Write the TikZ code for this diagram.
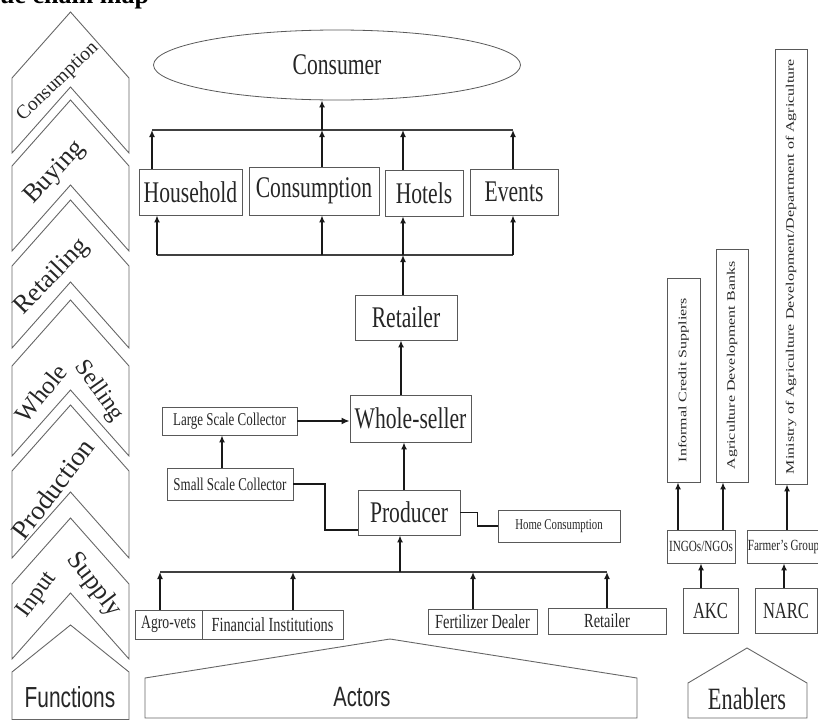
\documentclass[tikz,border=0pt]{standalone}
\usepackage{fontspec}
\setmainfont{Liberation Serif}[FakeStretch=0.72]
\newfontfamily\sanscond{Liberation Sans}[FakeStretch=0.72]
\newfontfamily\vertfont{Liberation Serif}[FakeStretch=1.39]
\newfontfamily\chevfont{Liberation Serif}
\usepackage{graphicx}
\usetikzlibrary{shapes.geometric,arrows.meta}
\tikzset{
  box/.style={draw=black!65, line width=0.8pt, rectangle, inner sep=0pt, text=black!85},
  bigt/.style={font=\fontsize{30}{32}\selectfont},
  arr/.style={line width=1.8pt, draw=black!90, -{Latex[length=7pt,width=6pt]}},
  thickarr/.style={line width=2.6pt, draw=black!90, -{Latex[length=8pt,width=7pt]}},
  link/.style={line width=2.2pt, draw=black!90},
  bus/.style={line width=1.2pt, draw=black!75},
  chevline/.style={draw=black!60, line width=0.9pt, line join=miter},
  chevlab/.style={inner sep=0pt, text=black!85},
}
\begin{document}
\begin{tikzpicture}[x=1pt,y=-1pt]
\useasboundingbox (0,0) rectangle (818,720);
\clip (0,0) rectangle (818,720);

% title (cut at top)
\node[anchor=base west, inner sep=0pt, font=\chevfont\bfseries\fontsize{26}{26}\selectfont] (title) at (0,3) {ue chain map};

% ---------- function chevrons ----------
\foreach \P/\N in {12/87,100/185,200/282,300/390,405/492,518/593}{
  \draw[chevline] (70.5,\P) -- (129,\P+66) -- (129,\N+66) -- (70.5,\N) -- (12,\N+66) -- (12,\P+66) -- cycle;
}
\draw[chevline] (70.5,625) -- (129,672) -- (129,719.5) -- (12,719.5) -- (12,672) -- cycle;
\node[chevlab, rotate=44, font=\chevfont\fontsize{19.5}{20}\selectfont] (lcons) at (58,82) {Consumption};
\node[chevlab, rotate=47, font=\chevfont\fontsize{26}{26}\selectfont] (lbuy) at (55,173) {Buying};
\node[chevlab, rotate=46, font=\chevfont\fontsize{26}{26}\selectfont] (lret) at (52,277) {Retailing};
\node[chevlab, rotate=51, font=\chevfont\fontsize{25}{25}\selectfont] (lwho) at (41,393) {Whole};
\node[chevlab, rotate=-55, font=\chevfont\fontsize{24}{24}\selectfont] (lsel) at (99,391) {Selling};
\node[chevlab, rotate=53, font=\chevfont\fontsize{27}{27}\selectfont] (lpro) at (53,489) {Production};
\node[chevlab, rotate=54, font=\chevfont\fontsize{24}{24}\selectfont] (linp) at (37,595) {Input};
\node[chevlab, rotate=-53, font=\chevfont\fontsize{26}{26}\selectfont] (lsup) at (94,585) {Supply};
\node[chevlab, font=\sanscond\fontsize{29}{30}\selectfont] (lfun) at (70,697) {Functions};

% ---------- actors / enablers bases ----------
\draw[chevline] (390,639) -- (637,678) -- (637,718) -- (145,718) -- (145,678) -- cycle;
\node[chevlab, font=\sanscond\fontsize{28}{30}\selectfont] (lact) at (362,697) {Actors};
\draw[chevline] (747,648) -- (807,683) -- (807,718) -- (688,718) -- (688,683) -- cycle;
\node[chevlab, font=\fontsize{31}{32}\selectfont] (lena) at (747,699) {Enablers};

% ---------- consumer level ----------
\node[ellipse, draw=black!65, line width=0.8pt, minimum width=367pt, minimum height=70pt, inner sep=0pt, bigt, text=black!85] (consumer) at (337,65) {Consumer\hspace{60pt}};
\node[box, bigt, minimum width=103pt, minimum height=46pt] (hh) at (190.5,192) {Household};
\node[box, bigt, minimum width=130pt, minimum height=48pt] (cons) at (314,191) {Consumption};
\node[box, bigt, minimum width=78pt, minimum height=46pt] (hot) at (424,193) {Hotels};
\node[box, bigt, minimum width=88pt, minimum height=46pt] (ev) at (514,192) {Events\hspace{16pt}};

\coordinate (tbL) at (152,130);
\coordinate (tbC) at (322,130);
\coordinate (tbH) at (403,130);
\coordinate (tbR) at (513,130);
\draw[bus] (tbL) -- (tbR);
\draw[arr] (tbL |- hh.north) -- (tbL);
\draw[arr] (tbC |- cons.north) -- (tbC);
\draw[arr] (tbH |- hot.north) -- (tbH);
\draw[arr] (tbR |- ev.north) -- (tbR);
\draw[arr] (tbC) -- (tbC |- consumer.south);

\coordinate (bbL) at (157,255);
\coordinate (bbC) at (322,255);
\coordinate (bbH) at (403,255);
\coordinate (bbR) at (513,255);
\draw[bus] (bbL) -- (bbR);
\draw[arr] (bbL) -- (bbL |- hh.south);
\draw[arr] (bbC) -- (bbC |- cons.south);
\draw[arr] (bbH) -- (bbH |- hot.south);
\draw[arr] (bbR) -- (bbR |- ev.south);

% ---------- trade chain ----------
\node[box, bigt, minimum width=102pt, minimum height=45pt] (ret) at (406,317.5) {Retailer};
\node[box, bigt, minimum width=121pt, minimum height=47pt] (ws) at (410.5,418.5) {Whole-seller};
\node[box, font=\fontsize{18}{18}\selectfont, minimum width=135pt, minimum height=28pt] (lsc) at (229.5,421) {Large Scale Collector};
\node[box, font=\fontsize{18}{18}\selectfont, minimum width=126pt, minimum height=32pt] (ssc) at (230,484) {Small Scale Collector};
\node[box, bigt, minimum width=102pt, minimum height=45pt] (prod) at (409,512.5) {Producer};
\node[box, font=\fontsize{15}{15}\selectfont, minimum width=122pt, minimum height=32pt] (hc) at (559,526) {Home Consumption};

\draw[arr] (bbH |- ret.north) -- (bbH);
\coordinate (xws) at (401,360);
\draw[arr] (xws |- ws.north) -- (xws |- ret.south);
\draw[thickarr] (lsc.east) -- (ws.west |- lsc.east);
\coordinate (xssc) at (222,450);
\draw[arr] (xssc |- ssc.north) -- (xssc |- lsc.south);
\coordinate (sp) at (325,530);
\draw[link] (ssc.east) -| (sp) -- (sp -| prod.west);
\coordinate (xpr) at (404,460);
\draw[arr] (xpr |- prod.north) -- (xpr |- ws.south);
\draw[line width=1.8pt, draw=black!90] (prod.east) -- ++(17,0) |- (hc.west);

% ---------- input supply ----------
\node[box, font=\fontsize{19}{19}\selectfont, minimum width=67pt, minimum height=29pt] (agro) at (168.5,624.5) {Agro-vets};
\node[box, font=\fontsize{20}{20}\selectfont, minimum width=141pt, minimum height=29pt] (fin) at (272.5,624.5) {Financial Institutions};
\node[box, font=\fontsize{20}{20}\selectfont, minimum width=109pt, minimum height=25pt] (fert) at (482.5,621.5) {Fertilizer Dealer};
\node[box, font=\fontsize{20}{20}\selectfont, minimum width=118pt, minimum height=26pt] (ret2) at (607,621) {Retailer\hspace{38pt}};

\coordinate (ibA) at (160,572);
\coordinate (ibF) at (293,572);
\coordinate (ibP) at (400,572);
\coordinate (ibD) at (473,572);
\coordinate (ibR) at (607,572);
\draw[bus] (ibA) -- (ibR);
\draw[arr] (ibP) -- (ibP |- prod.south);
\draw[arr] (ibA |- agro.north) -- (ibA);
\draw[arr] (ibF |- fin.north) -- (ibF);
\draw[arr] (ibD |- fert.north) -- (ibD);
\draw[arr] (ibR |- ret2.north) -- (ibR);

% ---------- enablers ----------
\node[box, minimum width=33pt, minimum height=204pt] (ics) at (683.5,380) {\rotatebox{90}{\vertfont\fontsize{11.5}{12}\selectfont Informal Credit Suppliers}};
\node[box, minimum width=32pt, minimum height=233pt] (adb) at (732,365.5) {\rotatebox{90}{\vertfont\fontsize{11.5}{12}\selectfont Agriculture Development Banks}};
\node[box, minimum width=32pt, minimum height=435pt] (mina) at (791,266.5) {\rotatebox{90}{\vertfont\fontsize{11.5}{12}\selectfont Ministry of Agriculture Development/Department of Agriculture}};
\node[box, font=\fontsize{15.5}{16}\selectfont, minimum width=68pt, minimum height=33pt] (ingo) at (701,546.5) {INGOs/NGOs};
\node[box, font=\fontsize{15.5}{16}\selectfont, minimum width=67pt, minimum height=33pt] (farm) at (783.5,546.5) {Farmer's Group};
\node[box, font=\fontsize{23}{24}\selectfont, minimum width=55pt, minimum height=45pt] (akc) at (710.5,610.5) {AKC};
\node[box, font=\fontsize{23}{24}\selectfont, minimum width=62pt, minimum height=45pt] (narc) at (786,610.5) {NARC};

\coordinate (xakc) at (701,575);
\coordinate (xnarc) at (784,575);
\coordinate (xics) at (678,500);
\coordinate (xadb) at (723,500);
\coordinate (xmin) at (787,500);
\draw[arr] (xakc |- akc.north) -- (xakc |- ingo.south);
\draw[arr] (xnarc |- narc.north) -- (xnarc |- farm.south);
\draw[arr] (xics |- ingo.north) -- (xics |- ics.south);
\draw[arr] (xadb |- ingo.north) -- (xadb |- adb.south);
\draw[arr] (xmin |- farm.north) -- (xmin |- mina.south);
\end{tikzpicture}
\end{document}
